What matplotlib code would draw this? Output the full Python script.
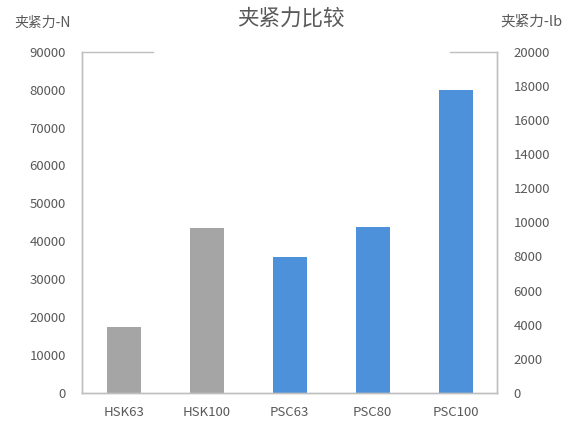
import matplotlib
matplotlib.use("Agg")
import matplotlib.pyplot as plt
from matplotlib.ticker import MultipleLocator

plt.rcParams['font.family'] = ['Noto Sans CJK SC', 'DejaVu Sans']

categories = ["HSK63", "HSK100", "PSC63", "PSC80", "PSC100"]
force_n = [17400, 43500, 35800, 43800, 79900]
bar_colors = ["#A5A5A5", "#A5A5A5", "#4C91D9", "#4C91D9", "#4C91D9"]
title = "夹紧力比较"
left_label = "夹紧力-N"
right_label = "夹紧力-lb"

text_color = "#595959"
axis_color = "#BFBFBF"

fig = plt.figure(figsize=(5.78, 4.21), dpi=100)
ax = fig.add_axes([0.1427, 0.0665, 0.7172, 0.8107])

x = range(len(categories))
ax.bar(x, force_n, width=0.41, color=bar_colors, zorder=2)
ax.set_xlim(-0.5, len(categories) - 0.5)
ax.set_ylim(0, 90000)
ax.yaxis.set_major_locator(MultipleLocator(10000))
ax.set_xticks(list(x))
ax.set_xticklabels(categories)

ax2 = ax.twinx()
ax2.set_ylim(0, 20000)
ax2.yaxis.set_major_locator(MultipleLocator(2000))

for a in (ax, ax2):
    for s in a.spines.values():
        s.set_color(axis_color)
        s.set_linewidth(1.0)
    a.spines['top'].set_visible(False)
    a.tick_params(axis='both', length=0, colors=text_color, labelsize=9.5)

ax.tick_params(axis='y', pad=12)
ax2.tick_params(axis='y', pad=12)
ax.tick_params(axis='x', pad=9)

# partial top border segments as in reference
ax.plot([0, 0.17], [1, 1], transform=ax.transAxes, color=axis_color, lw=1.0, clip_on=False)
ax.plot([0.887, 1], [1, 1], transform=ax.transAxes, color=axis_color, lw=1.0, clip_on=False)

fig.text(0.5026, 0.956, title, ha='center', va='center', fontsize=15.5, color=text_color)
fig.text(0.024, 0.946, left_label, ha='left', va='center', fontsize=10, color=text_color)
fig.text(0.973, 0.948, right_label, ha='right', va='center', fontsize=10.5, color=text_color)

fig.savefig("out.png", dpi=100, facecolor='white')
